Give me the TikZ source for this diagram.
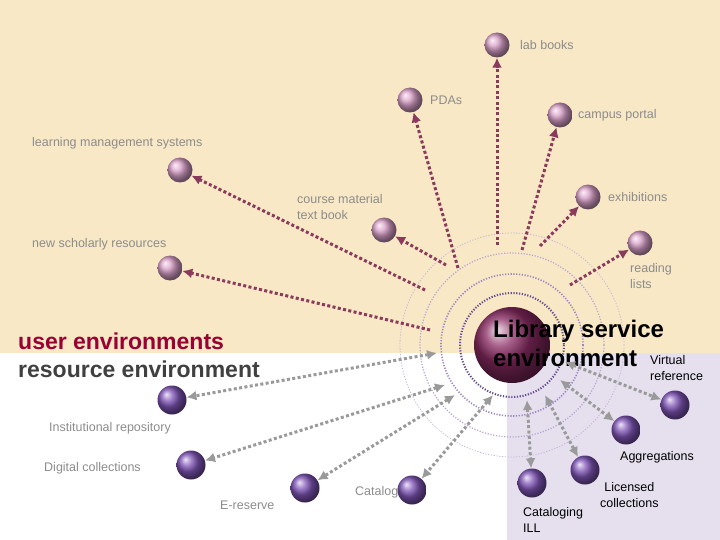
\documentclass[tikz,border=0pt]{standalone}
\usepackage{fontspec}
\setmainfont{Liberation Sans}
\usetikzlibrary{arrows.meta}
\definecolor{tanbg}{HTML}{F8E8C5}
\definecolor{lavbg}{HTML}{E6E0EE}
\definecolor{maroonarr}{HTML}{8A3A5C}
\definecolor{greyarr}{HTML}{9A9A9A}
\definecolor{labgrey}{HTML}{8C8C8C}
\definecolor{pinkball}{HTML}{D9A0C8}
\definecolor{vioball}{HTML}{8055B8}
\definecolor{libball}{HTML}{8A2A62}
\definecolor{ringcol}{HTML}{7A5AB0}
\begin{document}
\begin{tikzpicture}[x=1pt,y=-1pt]

\tikzstyle{pink} = [circle, minimum size=25pt, inner sep=0pt, shading=ball, ball color=pinkball]
\tikzstyle{violetball} = [circle, minimum size=29pt, inner sep=0pt, shading=ball, ball color=vioball]
\tikzstyle{lbl} = [font=\fontsize{12.5}{16}\selectfont, text=labgrey, align=left, anchor=west, inner sep=0pt]
\tikzstyle{outarrow} = [maroonarr, line width=3pt, dash pattern=on 3pt off 2.4pt, -{Latex[length=10pt,width=10pt]}]
\tikzstyle{botharrow} = [greyarr, line width=3pt, dash pattern=on 3pt off 2.4pt, {Latex[length=10pt,width=10pt]}-{Latex[length=10pt,width=10pt]}]
\tikzstyle{ring} = [dash pattern=on 1.2pt off 1.6pt]

% background
\useasboundingbox (0,0) rectangle (720,540);
\fill[tanbg] (0,0) rectangle (720,353);
\fill[lavbg] (507,353) rectangle (720,540);

% rings and centre
\draw[ring, ringcol!45, line width=0.8pt] (512,345) circle (112);
\draw[ring, ringcol!55, line width=1.2pt] (512,345) circle (92);
\draw[ring, ringcol!75, line width=1.6pt] (512,345) circle (71);
\draw[ring, ringcol!80!black, line width=2pt] (512,345) circle (52);
\node[circle, minimum size=76pt, inner sep=0pt, shading=ball, ball color=libball] (lib) at (512,345) {};
\node[anchor=west, inner sep=0pt, align=left, font=\fontsize{24}{29}\selectfont\bfseries] (libtxt) at (493,343) {Library service\\environment};

% user side
\node[pink] (lab) at (497,45) {};
\node[pink] (pda) at (410,100) {};
\node[pink] (portal) at (560,115) {};
\node[pink] (lms) at (180,170) {};
\node[pink] (course) at (384,230) {};
\node[pink] (exhib) at (588,197) {};
\node[pink] (scholar) at (170,268) {};
\node[pink] (reading) at (640,243) {};

\node[lbl] at (520,45) {lab books};
\node[lbl] at (430,100) {PDAs};
\node[lbl] at (578,115) {campus portal};
\node[lbl] at (32,143) {learning management systems};
\node[lbl] at (297,207) {course material\\text book};
\node[lbl] at (608,197) {exhibitions};
\node[lbl] at (32,244) {new scholarly resources};
\node[lbl] at (630,276) {reading\\lists};

% resource side
\node[violetball] (virt) at (675,405) {};
\node[violetball] (aggr) at (626,430) {};
\node[violetball] (licen) at (585,470) {};
\node[violetball] (catill) at (532,483) {};
\node[lbl] at (355,492) {Catalog};
\node[violetball] (catalog) at (412,490) {};
\node[violetball] (ereserve) at (305,488) {};
\node[violetball] (digital) at (191,465) {};
\node[violetball] (instrep) at (172,400) {};

\node[lbl, text=black] at (650,368) {Virtual\\reference};
\node[lbl, text=black] at (620,457) {Aggregations};
\node[lbl, text=black, align=center] at (600,495) {Licensed\\collections};
\node[lbl, text=black] at (523,520) {Cataloging\\ILL};
\node[lbl] at (220,505) {E-reserve};
\node[lbl] at (44,468) {Digital collections};
\node[lbl] at (49,428) {Institutional repository};

\node[anchor=west, inner sep=0pt, font=\fontsize{23}{26}\selectfont\bfseries, text=purple!80!black] at (18,341) {user environments};
\node[anchor=west, inner sep=0pt, font=\fontsize{23}{26}\selectfont\bfseries, text=black!75] at (18,369) {resource environment};

% start points
\coordinate (s1) at (497,245);
\coordinate (s2) at (458,268);
\coordinate (s3) at (522,250);
\coordinate (s4) at (425,290);
\coordinate (s5) at (446,265);
\coordinate (s6) at (540,246);
\coordinate (s7) at (430,330);
\coordinate (s8) at (570,285);
\coordinate (r1) at (565,362);
\coordinate (r2) at (560,380);
\coordinate (r3) at (545,395);
\coordinate (r4) at (527,400);
\coordinate (r5) at (493,395);
\coordinate (r6) at (455,395);
\coordinate (r7) at (445,385);
\coordinate (r8) at (437,353);

\draw[outarrow] (s1) -- (lab);
\draw[outarrow] (s2) -- (pda);
\draw[outarrow] (s3) -- (portal);
\draw[outarrow] (s4) -- (lms);
\draw[outarrow] (s5) -- (course);
\draw[outarrow] (s6) -- (exhib);
\draw[outarrow] (s7) -- (scholar);
\draw[outarrow] (s8) -- (reading);

\draw[botharrow] (r1) -- (virt);
\draw[botharrow] (r2) -- (aggr);
\draw[botharrow] (r3) -- (licen);
\draw[botharrow] (r4) -- (catill);
\draw[botharrow] (r5) -- (catalog);
\draw[botharrow] (r6) -- (ereserve);
\draw[botharrow] (r7) -- (digital);
\draw[botharrow] (r8) -- (instrep);

\end{tikzpicture}
\end{document}
